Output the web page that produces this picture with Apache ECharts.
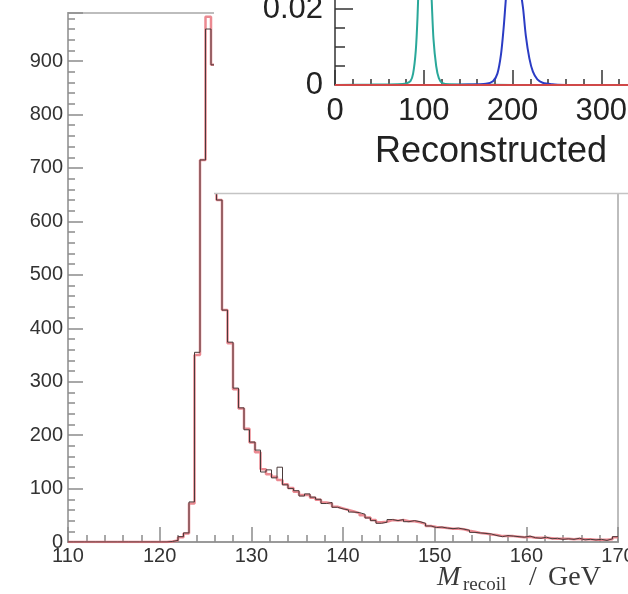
<!DOCTYPE html>
<html>
<head>
<meta charset="utf-8">
<script src="https://cdn.jsdelivr.net/npm/echarts@6/dist/echarts.min.js"></script>
<style>
html, body { margin: 0; padding: 0; background: #fff; }
#chart { width: 628px; height: 594px; }
</style>
</head>
<body>
<div id="chart"></div>
<script>
// recoil mass histogram, 0.6 GeV bins from 110 GeV
const binLo = 110
const binWidth = 0.6
const blackCounts = [
    0, 0, 0, 0, 0, 0, 0, 0, 0, 0,
    0, 0, 0, 0, 0, 0, 0, 0, 1, 3,
    10, 17, 75, 355, 715, 960, 893, 640, 434, 374,
    288, 251, 210, 187, 172, 131, 135, 120, 140, 107,
    100, 96, 86, 90, 84, 80, 72, 74, 65, 62,
    60, 56, 55, 52, 45, 40, 35, 37, 42, 40,
    42, 38, 40, 38, 35, 30, 27, 28, 26, 25,
    26, 24, 22, 18, 17, 16, 15, 12, 10, 12,
    11, 10, 9, 11, 8, 7, 9, 6, 7, 5,
    6, 5, 7, 4, 5, 4, 5, 3, 6, 10
]
const redCounts = [
    0, 0, 0, 0, 0, 0, 0, 0, 0, 0,
    0, 0, 0, 0, 0, 0, 0, 0, 1, 3,
    9, 16, 72, 350, 715, 983, 893, 640, 434, 372,
    286, 250, 212, 186, 168, 136, 127, 122, 116, 108,
    101, 94, 88, 88, 83, 79, 74, 72, 66, 63,
    60, 57, 54, 50, 46, 41, 37, 38, 41, 40,
    41, 39, 39, 37, 34, 30, 28, 27, 26, 25,
    25, 24, 21, 19, 17, 16, 14, 13, 11, 11,
    11, 10, 9, 10, 8, 8, 8, 7, 6, 6,
    6, 5, 6, 5, 5, 4, 4, 4, 5, 9
]
const mainXTicks = [110, 170, 10]   // min, max, step
const mainYTicks = [0, 990, 100]

// inset: reconstructed mass distributions (x, fraction)
const insetTeal = [
    [0, 0], [40, 0.0001], [70, 0.0002], [80, 0.0004], [85, 0.001], [88, 0.003],
    [91, 0.009], [93, 0.018], [95, 0.032], [98, 0.05], [101, 0.055], [104, 0.048],
    [107, 0.033], [109, 0.022], [111, 0.012], [114, 0.005], [117, 0.0018],
    [121, 0.0005], [130, 0.0002], [160, 0.0001], [200, 0]
]
const insetBlue = [
    [130, 0], [150, 0.0001], [170, 0.0003], [178, 0.001], [183, 0.003], [187, 0.008],
    [190, 0.015], [192, 0.021], [195, 0.03], [200, 0.036], [205, 0.032], [209, 0.025],
    [212, 0.02], [215, 0.013], [219, 0.007], [223, 0.0035], [228, 0.0015],
    [234, 0.0006], [245, 0.0002], [260, 0]
]
const insetRed = [[0, 0], [400, 0]]
const insetXTicks = [0, 400, 100]
const insetYTicks = [0, 0.025, 0.02]

function histPoints(counts) {
    let pts = []
    for (let i = 0; i < counts.length; i++) {
        pts.push([binLo + i * binWidth, counts[i]])
    }
    pts.push([binLo + counts.length * binWidth, counts[counts.length - 1]])
    return pts
}

const chart = echarts.init(document.getElementById('chart'), null, { renderer: 'canvas' })
const grayTick = { color: '#8c8c8c', width: 1.5 }
const darkTick = { color: '#333', width: 1.5 }

const option = {
    animation: false,
    backgroundColor: '#fff',
    grid: [
        { left: 68, right: 10, top: 13, bottom: 52, containLabel: false, outerBoundsMode: 'none',
          show: true, borderColor: '#bdbdbd', borderWidth: 2, backgroundColor: 'transparent' },
        { left: 335, right: -62, top: -10, bottom: 509, containLabel: false, outerBoundsMode: 'none' }
    ],
    xAxis: [{
        type: 'value', gridIndex: 0,
        min: mainXTicks[0], max: mainXTicks[1], interval: mainXTicks[2],
        axisLine: { show: true, onZero: false, lineStyle: { color: '#9a9a9a', width: 2 } },
        axisTick: { inside: true, length: 15, lineStyle: grayTick },
        minorTick: { show: true, splitNumber: 5, length: 7, lineStyle: grayTick },
        axisLabel: { color: '#333', fontSize: 20, margin: 4, fontFamily: 'Liberation Sans' },
        splitLine: { show: false }
    }, {
        type: 'value', gridIndex: 1, z: 60,
        min: insetXTicks[0], max: insetXTicks[1], interval: insetXTicks[2],
        axisLine: { show: true, onZero: false, lineStyle: darkTick },
        axisTick: { inside: true, length: 15, lineStyle: darkTick },
        minorTick: { show: true, splitNumber: 5, length: 6, lineStyle: darkTick },
        axisLabel: { color: '#222', fontSize: 31, margin: 11, fontFamily: 'Liberation Sans' },
        splitLine: { show: false }
    }],
    yAxis: [{
        type: 'value', gridIndex: 0,
        min: mainYTicks[0], max: mainYTicks[1], interval: mainYTicks[2],
        axisLine: { show: true, lineStyle: { color: '#a8a8a8', width: 2 } },
        axisTick: { inside: true, length: 15, lineStyle: grayTick },
        minorTick: { show: true, splitNumber: 5, length: 7, lineStyle: grayTick },
        axisLabel: {
            color: '#333', fontSize: 20, margin: 5, fontFamily: 'Liberation Sans',
            formatter: function (v) { return v % 100 === 0 ? String(v) : '' }
        },
        splitLine: { show: false }
    }, {
        type: 'value', gridIndex: 1, z: 60,
        min: insetYTicks[0], max: insetYTicks[1], interval: insetYTicks[2],
        axisLine: { show: true, lineStyle: darkTick },
        axisTick: { inside: true, length: 18, lineStyle: darkTick },
        minorTick: { show: true, splitNumber: 4, length: 10, lineStyle: darkTick },
        axisLabel: {
            color: '#222', fontSize: 31, margin: 12, fontFamily: 'Liberation Sans',
            formatter: function (v) {
                if (v === 0) return '0'
                if (Math.abs(v - 0.02) < 1e-9) return '0.02'
                return ''
            }
        },
        splitLine: { show: false }
    }],
    graphic: [
        { type: 'rect', z: 50, shape: { x: 214, y: 0, width: 414, height: 193 }, style: { fill: '#fff' } },
        { type: 'line', z: 51, shape: { x1: 214, y1: 193.5, x2: 628, y2: 193.5 }, style: { stroke: '#c4c4c4', lineWidth: 1.5 } },
        { type: 'text', z: 80, style: { text: 'Reconstructed', x: 375, y: 152, font: '36px "Liberation Sans"', fill: '#222', verticalAlign: 'middle', textVerticalAlign: 'middle' } },
        { type: 'text', z: 80, style: { text: 'M', x: 437, y: 578, font: 'italic 28px "Liberation Serif"', fill: '#3a3a3a', verticalAlign: 'middle', textVerticalAlign: 'middle' } },
        { type: 'text', z: 80, style: { text: 'recoil', x: 463, y: 585, font: '19px "Liberation Serif"', fill: '#3a3a3a', verticalAlign: 'middle', textVerticalAlign: 'middle' } },
        { type: 'text', z: 80, style: { text: '/', x: 529, y: 578, font: '28px "Liberation Serif"', fill: '#3a3a3a', verticalAlign: 'middle', textVerticalAlign: 'middle' } },
        { type: 'text', z: 80, style: { text: 'GeV', x: 548, y: 578, font: '28px "Liberation Serif"', fill: '#3a3a3a', verticalAlign: 'middle', textVerticalAlign: 'middle' } }
    ],
    series: [{
        type: 'line', xAxisIndex: 0, yAxisIndex: 0, z: 2,
        step: 'end', showSymbol: false, symbol: 'none',
        data: histPoints(redCounts),
        lineStyle: { color: '#e8747e', width: 2.5, opacity: 0.85 }
    }, {
        type: 'line', xAxisIndex: 0, yAxisIndex: 0, z: 3,
        step: 'end', showSymbol: false, symbol: 'none',
        data: histPoints(blackCounts),
        lineStyle: { color: '#4a3a3a', width: 1 }
    }, {
        type: 'line', xAxisIndex: 1, yAxisIndex: 1, z: 70,
        showSymbol: false, symbol: 'none', smooth: 0.3,
        data: insetTeal,
        lineStyle: { color: '#2aa89a', width: 2 }
    }, {
        type: 'line', xAxisIndex: 1, yAxisIndex: 1, z: 70,
        showSymbol: false, symbol: 'none', smooth: 0.3,
        data: insetBlue,
        lineStyle: { color: '#2b3cc4', width: 2 }
    }, {
        type: 'line', xAxisIndex: 1, yAxisIndex: 1, z: 71,
        showSymbol: false, symbol: 'none',
        data: insetRed,
        lineStyle: { color: '#d04848', width: 2 }
    }]
}
chart.setOption(option)
</script>
</body>
</html>
